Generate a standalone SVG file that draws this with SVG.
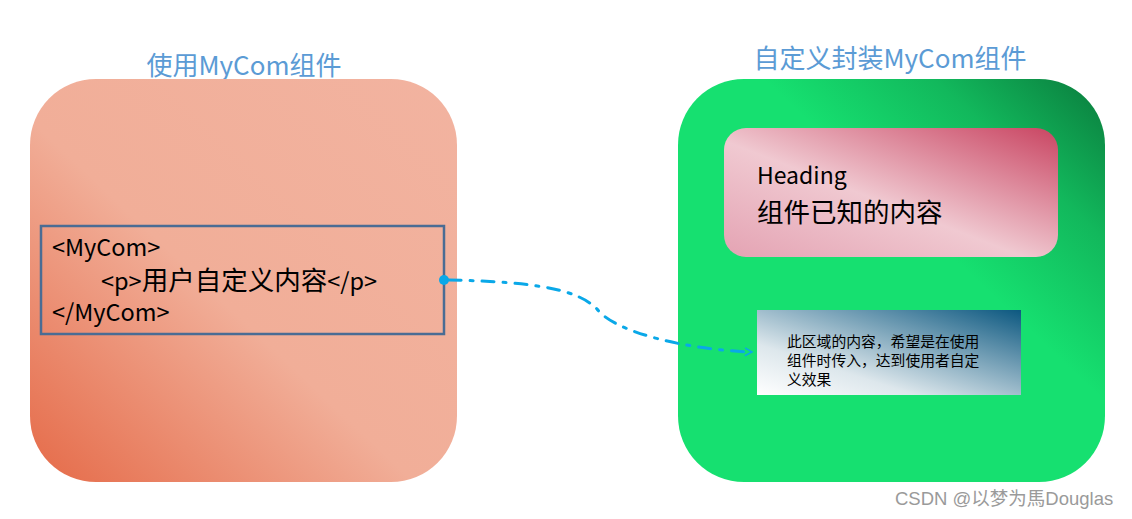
<svg xmlns="http://www.w3.org/2000/svg" width="1132" height="519" viewBox="0 0 1132 519">
<style>
.t{font-family:"Noto Sans CJK SC","Noto Sans",sans-serif;fill:#000}
.title{font-family:"Noto Sans CJK SC","Noto Sans",sans-serif;fill:#5b9bd5;font-size:26px}
.conn{fill:none;stroke:#0aa8e8;stroke-width:3;stroke-dasharray:12 9 3 9;stroke-linecap:round}
</style>
<defs>
<linearGradient id="gL" x1="0" y1="1" x2="1" y2="0">
<stop offset="0" stop-color="#e56a48"/>
<stop offset="0.45" stop-color="#f1ae98"/>
<stop offset="1" stop-color="#f2b3a0"/>
</linearGradient>
<linearGradient id="gR" x1="0" y1="1" x2="1" y2="0">
<stop offset="0" stop-color="#16e070"/>
<stop offset="0.6" stop-color="#16e070"/>
<stop offset="0.8" stop-color="#12b85c"/>
<stop offset="1" stop-color="#0a7a3c"/>
</linearGradient>
<linearGradient id="gP" x1="0" y1="1" x2="1" y2="0">
<stop offset="0" stop-color="#e4a3b3"/>
<stop offset="0.45" stop-color="#f0c9d1"/>
<stop offset="1" stop-color="#c94562"/>
</linearGradient>
<linearGradient id="gB" x1="0" y1="1" x2="1" y2="0">
<stop offset="0" stop-color="#ffffff"/>
<stop offset="0.3" stop-color="#dde7ec"/>
<stop offset="1" stop-color="#0c5880"/>
</linearGradient>
<marker id="arr" markerWidth="10" markerHeight="10" refX="8" refY="5" orient="auto" markerUnits="userSpaceOnUse">
<path d="M1,1 L8,5 L1,9" fill="none" stroke="#0aa8e8" stroke-width="1.5"/>
</marker>
</defs>
<rect width="1132" height="519" fill="#fff"/>
<g id="left">
<text class="title" x="244" y="75" text-anchor="middle">使用MyCom组件</text>
<rect x="30" y="79" width="427" height="403" rx="66" fill="url(#gL)"/>
<rect x="41" y="226" width="403" height="108" fill="none" stroke="#4a6c94" stroke-width="2.5"/>
<text class="t" x="52" y="256" font-size="23.5">&lt;MyCom&gt;</text>
<text class="t" x="101" y="290" font-size="23.5">&lt;p&gt;<tspan font-size="26.5">用户自定义内容</tspan>&lt;/p&gt;</text>
<text class="t" x="52" y="321" font-size="23.5">&lt;/MyCom&gt;</text>
</g>
<g id="right">
<text class="title" x="890" y="68" text-anchor="middle">自定义封装MyCom组件</text>
<rect x="678" y="79" width="427" height="403" rx="66" fill="url(#gR)"/>
</g>
<g id="known">
<rect x="724" y="128" width="334" height="129" rx="22" fill="url(#gP)"/>
<text class="t" x="757" y="184" font-size="23">Heading</text>
<text class="t" x="757" y="222" font-size="26.5">组件已知的内容</text>
</g>
<g id="slot">
<rect x="757" y="310" width="264" height="85" fill="url(#gB)"/>
<text class="t" font-size="14.8"><tspan x="787" y="347">此区域的内容，希望是在使用</tspan><tspan x="787" y="366">组件时传入，达到使用者自定</tspan><tspan x="787" y="385">义效果</tspan></text>
</g>
<g id="connectors">
<circle cx="444" cy="280" r="5" fill="#0aa8e8"/>
<path class="conn" d="M449,280 C540,282 578,290 597,309 C615,333 690,350 752,352" marker-end="url(#arr)"/>
</g>
<text x="895" y="505" font-family="Liberation Sans,Noto Sans CJK SC,sans-serif" font-size="18.5" fill="#9a9a9a">CSDN @以梦为馬Douglas</text>
</svg>
